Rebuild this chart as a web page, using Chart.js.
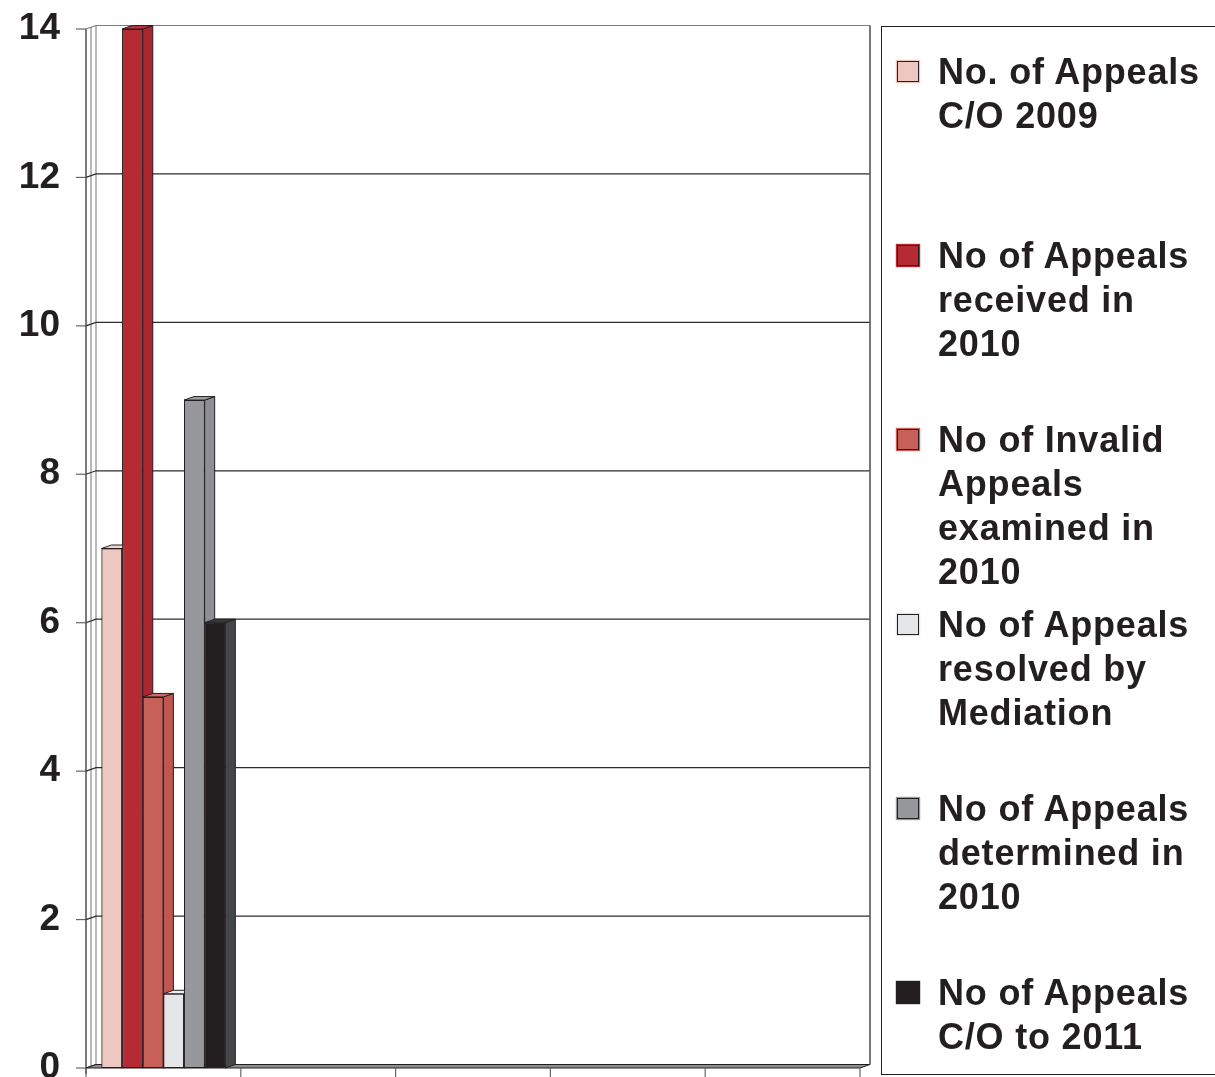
<!DOCTYPE html>
<html>
<head>
<meta charset="utf-8">
<script src="https://cdn.jsdelivr.net/npm/chart.js@4.4.1/dist/chart.umd.min.js"></script>
<style>
html,body{margin:0;padding:0;background:#fff;overflow:hidden;width:1215px;height:1077px;}
#wrap{position:absolute;left:0;top:0;width:1215px;height:1100px;}
#legend{position:absolute;left:881px;top:26px;width:360px;height:1049px;border:1.5px solid #231f20;border-right:none;box-sizing:border-box;
  font-family:'Liberation Sans',Arial,Helvetica,sans-serif;font-weight:bold;font-size:36px;line-height:44px;color:#231f20;letter-spacing:0.8px;}
.item{position:absolute;left:56px;white-space:nowrap;}
.sw{position:absolute;left:-41px;top:11px;width:20px;height:19px;border:1px solid #231f20;box-sizing:content-box;}
</style>
</head>
<body>
<div id="wrap"><canvas id="c" width="1215" height="1100"></canvas></div>
<div id="legend"></div>
<script>
// ---- data ----
const categories = ['', '', '', '', ''];
const appealsCarriedOver2009 = [7];
const appealsReceived2010 = [14];
const invalidAppealsExamined2010 = [5];
const appealsResolvedByMediation = [1];
const appealsDetermined2010 = [9];
const appealsCarriedOverTo2011 = [6];
const seriesLabels = [
  ['No. of Appeals', 'C/O 2009'],
  ['No of Appeals', 'received in', '2010'],
  ['No of Invalid', 'Appeals', 'examined in', '2010'],
  ['No of Appeals', 'resolved by', 'Mediation'],
  ['No of Appeals', 'determined in', '2010'],
  ['No of Appeals', 'C/O to 2011']
];
const yTicks = [0, 2, 4, 6, 8, 10, 12, 14];

// ---- styles ----
const seriesValues = [appealsCarriedOver2009, appealsReceived2010, invalidAppealsExamined2010,
  appealsResolvedByMediation, appealsDetermined2010, appealsCarriedOverTo2011];
const frontColors = ['#ecc8c0', '#b52a35', '#c8605a', '#e5e6e8', '#97989c', '#231f20'];
const sideColors  = ['#e6bdb4', '#ab2631', '#bf5650', '#d9dadc', '#8e8f93', '#454648'];
const topColors   = ['#f1d5ce', '#b9323d', '#cd6b64', '#eeeff0', '#a2a3a7', '#38383a'];
const DX = 10, DY = -3.5;

const pad = arr => categories.map((_, i) => (arr[i] === undefined ? null : arr[i]));

const wallsPlugin = {
  id: 'walls',
  beforeDatasetsDraw(chart) {
    const {ctx, chartArea: a, scales: {x, y}} = chart;
    ctx.save();
    ctx.lineWidth = 1.2;
    ctx.strokeStyle = '#231f20';
    ctx.beginPath(); ctx.moveTo(a.left, a.top); ctx.lineTo(a.left, a.bottom + 6); ctx.stroke();
    ctx.strokeStyle = '#8a8a8a';
    ctx.beginPath(); ctx.moveTo(a.left + 5, a.top - 2); ctx.lineTo(a.left + 5, a.bottom - 2); ctx.stroke();
    ctx.beginPath(); ctx.moveTo(a.left + DX, a.top + DY); ctx.lineTo(a.left + DX, a.bottom + DY); ctx.stroke();
    yTicks.forEach(v => {
      const py = y.getPixelForValue(v);
      ctx.strokeStyle = '#666';
      ctx.beginPath(); ctx.moveTo(a.left - 10, py); ctx.lineTo(a.left, py); ctx.stroke();
      ctx.strokeStyle = v === 14 ? '#7c7c7c' : '#2e2b2c';
      ctx.beginPath(); ctx.moveTo(a.left, py); ctx.lineTo(a.left + DX, py + DY);
      if (v !== 0) ctx.lineTo(a.right + DX, py + DY);
      ctx.stroke();
    });
    ctx.strokeStyle = '#555';
    ctx.lineWidth = 1.6;
    ctx.beginPath(); ctx.moveTo(a.right + DX, a.top + DY); ctx.lineTo(a.right + DX, a.bottom + DY); ctx.stroke();
    ctx.lineWidth = 1;
    ctx.fillStyle = '#8d8e90';
    ctx.strokeStyle = '#231f20';
    ctx.beginPath();
    ctx.moveTo(a.left, a.bottom); ctx.lineTo(a.right, a.bottom);
    ctx.lineTo(a.right + DX, a.bottom + DY); ctx.lineTo(a.left + DX, a.bottom + DY);
    ctx.closePath(); ctx.fill(); ctx.stroke();
    ctx.strokeStyle = '#666';
    ctx.lineWidth = 1.2;
    for (let k = 0; k <= categories.length; k++) {
      const px = x.getPixelForValue(k - 0.5);
      ctx.beginPath(); ctx.moveTo(px, a.bottom); ctx.lineTo(px, a.bottom + 9); ctx.stroke();
    }
    ctx.restore();
  }
};

const depthPlugin = {
  id: 'depth',
  afterDatasetsDraw(chart) {
    const ctx = chart.ctx;
    ctx.save();
    ctx.lineWidth = 1;
    ctx.strokeStyle = '#231f20';
    chart.data.datasets.forEach((ds, i) => {
      const meta = chart.getDatasetMeta(i);
      meta.data.forEach((el, j) => {
        if (ds.data[j] === null || ds.data[j] === undefined) return;
        const {x: cx, y: top, base, width} = el.getProps(['x', 'y', 'base', 'width'], true);
        const l = cx - width / 2, r = cx + width / 2;
        ctx.fillStyle = sideColors[i];
        ctx.beginPath();
        ctx.moveTo(r, top); ctx.lineTo(r + DX, top + DY); ctx.lineTo(r + DX, base + DY); ctx.lineTo(r, base);
        ctx.closePath(); ctx.fill(); ctx.stroke();
        ctx.fillStyle = topColors[i];
        ctx.beginPath();
        ctx.moveTo(l, top); ctx.lineTo(l + DX, top + DY); ctx.lineTo(r + DX, top + DY); ctx.lineTo(r, top);
        ctx.closePath(); ctx.fill(); ctx.stroke();
        el.draw(ctx, chart.chartArea);
      });
    });
    ctx.restore();
  }
};

const chart = new Chart(document.getElementById('c'), {
  type: 'bar',
  data: {
    labels: categories,
    datasets: seriesValues.map((vals, i) => ({
      label: seriesLabels[i].join(' '),
      data: pad(vals),
      backgroundColor: frontColors[i],
      borderColor: '#231f20',
      borderWidth: 1,
      borderSkipped: false,
      clip: false
    }))
  },
  options: {
    responsive: false,
    animation: false,
    devicePixelRatio: 1,
    layout: {padding: {left: 0, right: 355, top: 29, bottom: 23}},
    datasets: {bar: {barPercentage: 1, categoryPercentage: 0.8}},
    plugins: {legend: {display: false}, tooltip: {enabled: false}},
    scales: {
      x: {
        ticks: {display: false},
        grid: {display: false},
        border: {display: false},
        afterFit: s => { s.height = 9; s.paddingLeft = 0; s.paddingRight = 0; }
      },
      y: {
        min: 0, max: 14,
        afterBuildTicks: s => { s.ticks = yTicks.map(v => ({value: v})); },
        ticks: {
          color: '#231f20',
          padding: 26,
          font: {family: "'Liberation Sans', Arial, Helvetica, sans-serif", weight: 'bold', size: 37}
        },
        grid: {display: false, drawTicks: false},
        border: {display: false},
        afterFit: s => { s.width = 86; s.paddingTop = 0; s.paddingBottom = 0; }
      }
    }
  },
  plugins: [wallsPlugin, depthPlugin]
});

// ---- HTML legend ----
const legend = document.getElementById('legend');
seriesLabels.forEach((lines, i) => {
  const it = document.createElement('div');
  it.className = 'item';
  it.style.top = (23 + i * 184.2) + 'px';
  const sw = document.createElement('span');
  sw.className = 'sw';
  sw.style.background = frontColors[i];
  sw.style.boxShadow = '0 0 0 1.2px ' + frontColors[i];
  it.appendChild(sw);
  lines.forEach((ln, k) => {
    if (k) it.appendChild(document.createElement('br'));
    it.appendChild(document.createTextNode(ln));
  });
  legend.appendChild(it);
});
</script>
</body>
</html>
